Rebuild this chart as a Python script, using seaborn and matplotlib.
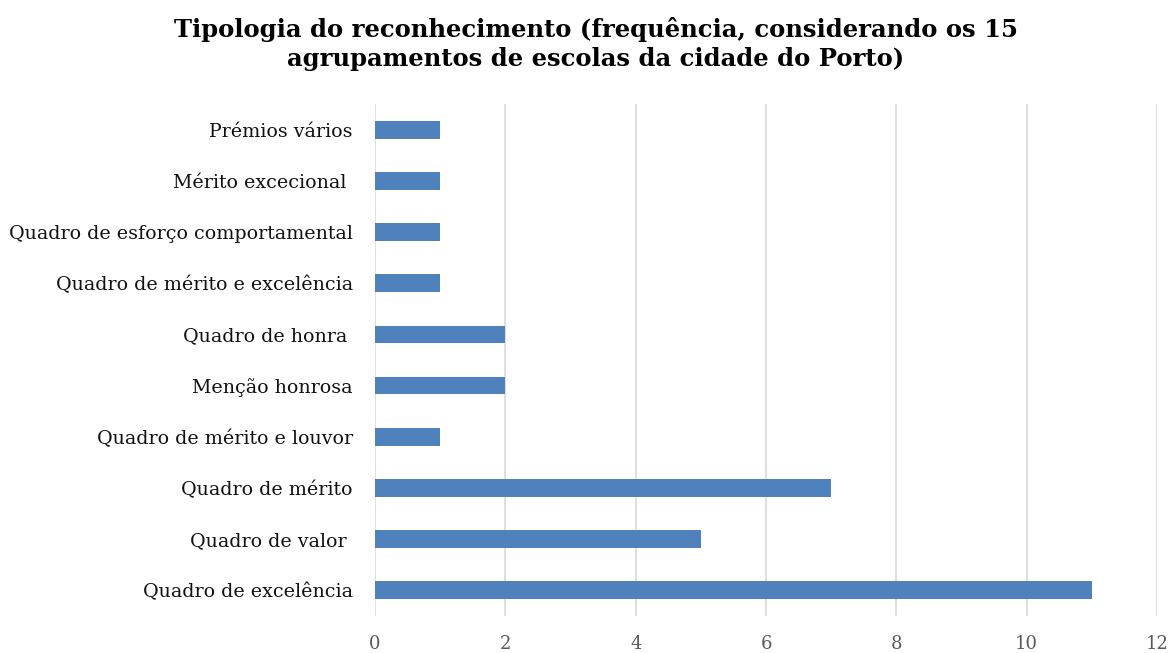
import pandas as pd
import matplotlib.pyplot as plt
import seaborn as sns

# data (top to bottom as shown)
categorias = [
    "Prémios vários",
    "Mérito excecional ",
    "Quadro de esforço comportamental",
    "Quadro de mérito e excelência",
    "Quadro de honra ",
    "Menção honrosa",
    "Quadro de mérito e louvor",
    "Quadro de mérito",
    "Quadro de valor ",
    "Quadro de excelência",
]
frequencia = [1, 1, 1, 1, 2, 2, 1, 7, 5, 11]
x_ticks = [0, 2, 4, 6, 8, 10, 12]

df = pd.DataFrame({"categoria": categorias, "frequencia": frequencia})

sns.set_style("white")
plt.rcParams["font.family"] = ["DejaVu Serif"]

fig = plt.figure(figsize=(11.73, 6.53), dpi=100)
ax = fig.add_axes([0.3197, 0.0574, 0.6667, 0.7826])

sns.barplot(data=df, x="frequencia", y="categoria", order=categorias,
            color="#4F81BD", saturation=1, width=0.35, linewidth=0,
            ax=ax, zorder=3)

ax.set_xlim(0, 12)
ax.set_xticks(x_ticks)
ax.xaxis.grid(True, color="#D9D9D9", linewidth=1.2, zorder=0)
ax.set_axisbelow(True)
for s in ax.spines.values():
    s.set_visible(False)
ax.set_xlabel("")
ax.set_ylabel("")
ax.tick_params(axis="x", colors="#595959", labelsize=13, length=0, pad=14)
ax.tick_params(axis="y", labelsize=13.7, length=0, pad=16, labelcolor="#111111")

fig.text(0.508, 0.933,
         "Tipologia do reconhecimento (frequência, considerando os 15\n"
         "agrupamentos de escolas da cidade do Porto)",
         ha="center", va="center", fontsize=17.5, fontweight="bold",
         color="black", linespacing=1.25)

fig.savefig("out.png", dpi=100)
